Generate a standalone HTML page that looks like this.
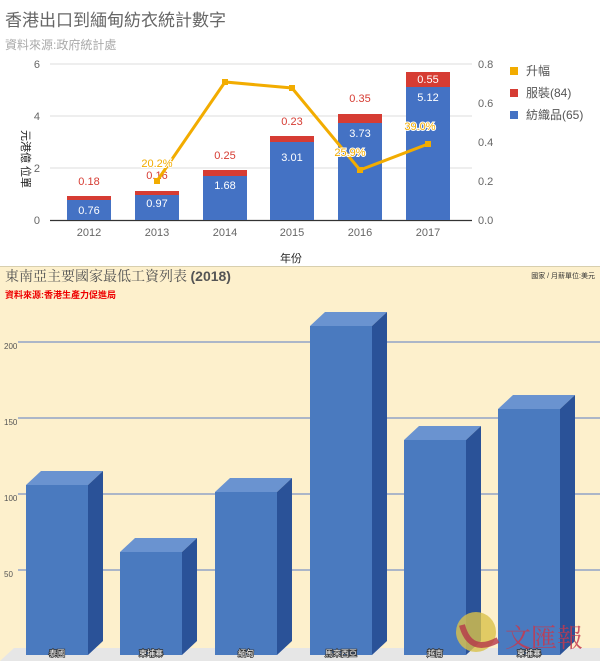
<!DOCTYPE html>
<html><head><meta charset="utf-8"><style>
body{margin:0;width:600px;height:661px;overflow:hidden;background:#fff;font-family:"Liberation Sans","Noto Sans CJK TC",sans-serif}
</style></head><body>
<svg width="600" height="661" xmlns="http://www.w3.org/2000/svg" font-family="Liberation Sans, Noto Sans CJK TC, sans-serif">
<text x="5" y="26" font-size="17" fill="#666">香港出口到緬甸紡衣統計數字</text>
<text x="5" y="49" font-size="12" fill="#aaa">資料來源:政府統計處</text>
<g stroke="#ddd" stroke-width="1">
<line x1="50" y1="64" x2="472" y2="64"/><line x1="50" y1="116" x2="472" y2="116"/><line x1="50" y1="168" x2="472" y2="168"/>
</g>
<line x1="50" y1="220.5" x2="472" y2="220.5" stroke="#333" stroke-width="1.2"/>
<g font-size="11" fill="#666" text-anchor="end"><text x="40" y="68">6</text><text x="40" y="120">4</text><text x="40" y="172">2</text><text x="40" y="224">0</text></g>
<g font-size="11" fill="#666"><text x="478" y="68">0.8</text><text x="478" y="107">0.6</text><text x="478" y="146">0.4</text><text x="478" y="185">0.2</text><text x="478" y="224">0.0</text></g>
<text transform="translate(22,130) rotate(90)" font-size="11" fill="#222">元港億 位單</text>
<g fill="#4472c4">
<rect x="67" y="200" width="44" height="20"/><rect x="135" y="195" width="44" height="25"/><rect x="203" y="176" width="44" height="44"/><rect x="270" y="142" width="44" height="78"/><rect x="338" y="123" width="44" height="97"/><rect x="406" y="87" width="44" height="133"/>
</g>
<g fill="#d63c33">
<rect x="67" y="196" width="44" height="4"/><rect x="135" y="191" width="44" height="4"/><rect x="203" y="170" width="44" height="6"/><rect x="270" y="136" width="44" height="6"/><rect x="338" y="114" width="44" height="9"/><rect x="406" y="72" width="44" height="15"/>
</g>
<g font-size="11" text-anchor="middle" fill="#fff"><text x="89" y="214">0.76</text><text x="157" y="207">0.97</text><text x="225" y="189">1.68</text><text x="292" y="161">3.01</text><text x="360" y="137">3.73</text><text x="428" y="101">5.12</text><text x="428" y="83">0.55</text></g>
<g font-size="11" text-anchor="middle" fill="#d63c33"><text x="89" y="185">0.18</text><text x="157" y="179">0.16</text><text x="225" y="159">0.25</text><text x="292" y="125">0.23</text><text x="360" y="102">0.35</text></g>
<polyline points="157,181 225,82 292,88 360,170 428,144" fill="none" stroke="#f2ac00" stroke-width="3"/>
<g fill="#f2ac00"><rect x="154" y="178" width="6" height="6"/><rect x="222" y="79" width="6" height="6"/><rect x="289" y="85" width="6" height="6"/><rect x="357" y="167" width="6" height="6"/><rect x="425" y="141" width="6" height="6"/></g>
<g font-size="11" text-anchor="middle" fill="#f2ac00" stroke="#fff" stroke-width="2" paint-order="stroke"><text x="157" y="167">20.2%</text><text x="350" y="156">25.9%</text><text x="420" y="130">39.0%</text></g>
<g font-size="11" fill="#666" text-anchor="middle"><text x="89" y="236">2012</text><text x="157" y="236">2013</text><text x="225" y="236">2014</text><text x="292" y="236">2015</text><text x="360" y="236">2016</text><text x="428" y="236">2017</text></g>
<text x="291" y="262" font-size="11" fill="#222" text-anchor="middle">年份</text>
<rect x="510" y="67" width="8" height="8" fill="#f2ac00"/><text x="526" y="75" font-size="12" fill="#555">升幅</text>
<rect x="510" y="89" width="8" height="8" fill="#d63c33"/><text x="526" y="97" font-size="12" fill="#555">服裝(84)</text>
<rect x="510" y="111" width="8" height="8" fill="#4472c4"/><text x="526" y="119" font-size="12" fill="#555">紡織品(65)</text>

<rect x="0" y="266" width="600" height="395" fill="#fdf0cc"/>
<line x1="0" y1="266.5" x2="600" y2="266.5" stroke="#d8cfae"/>
<polygon points="0,661 14,648 600,648 600,661" fill="#e6e6e6"/>
<text x="5" y="281" font-size="14" fill="#555" font-family="Liberation Serif, Noto Serif CJK SC, serif">東南亞主要國家最低工資列表 <tspan font-family="Liberation Sans, sans-serif" font-weight="bold">(2018)</tspan></text>
<text x="5" y="298" font-size="9" font-weight="bold" fill="#e00">資料來源:香港生產力促進局</text>
<text x="595" y="278" font-size="7" fill="#333" text-anchor="end">國家 / 月薪單位:美元</text>
<g stroke="#5a7cc4" stroke-width="1"><line x1="18" y1="342" x2="600" y2="342"/><line x1="18" y1="418" x2="600" y2="418"/><line x1="18" y1="494" x2="600" y2="494"/><line x1="18" y1="570" x2="600" y2="570"/></g>
<g font-size="8" fill="#555"><text x="4" y="349">200</text><text x="4" y="425">150</text><text x="4" y="501">100</text><text x="4" y="577">50</text></g>
<g id="bars">
<g><polygon points="26,485 41,471 103,471 88,485" fill="#6a93d0"/><polygon points="88,485 103,471 103,641 88,655" fill="#2a5298"/><rect x="26" y="485" width="62" height="170" fill="#4a7abf"/></g>
<g><polygon points="120,552 135,538 197,538 182,552" fill="#6a93d0"/><polygon points="182,552 197,538 197,641 182,655" fill="#2a5298"/><rect x="120" y="552" width="62" height="103" fill="#4a7abf"/></g>
<g><polygon points="215,492 230,478 292,478 277,492" fill="#6a93d0"/><polygon points="277,492 292,478 292,641 277,655" fill="#2a5298"/><rect x="215" y="492" width="62" height="163" fill="#4a7abf"/></g>
<g><polygon points="310,326 325,312 387,312 372,326" fill="#6a93d0"/><polygon points="372,326 387,312 387,641 372,655" fill="#2a5298"/><rect x="310" y="326" width="62" height="329" fill="#4a7abf"/></g>
<g><polygon points="404,440 419,426 481,426 466,440" fill="#6a93d0"/><polygon points="466,440 481,426 481,641 466,655" fill="#2a5298"/><rect x="404" y="440" width="62" height="215" fill="#4a7abf"/></g>
<g><polygon points="498,409 513,395 575,395 560,409" fill="#6a93d0"/><polygon points="560,409 575,395 575,641 560,655" fill="#2a5298"/><rect x="498" y="409" width="62" height="246" fill="#4a7abf"/></g>
</g>
<g font-size="8" fill="#fff" stroke="#333" stroke-width="1.5" paint-order="stroke" text-anchor="middle"><text x="57" y="656">泰國</text><text x="151" y="656">柬埔寨</text><text x="246" y="656">緬甸</text><text x="341" y="656">馬來西亞</text><text x="435" y="656">越南</text><text x="529" y="656">柬埔寨</text></g>
<circle cx="476" cy="632" r="20" fill="#d9c24a" opacity="0.8"/>
<path d="M462,625 Q470,655 498,640" stroke="#b5374a" stroke-width="6" fill="none" opacity="0.8"/>
<text x="505" y="647" font-size="26" fill="#c53a4f" opacity="0.85" font-family="Noto Serif CJK SC, serif">文匯報</text>
</svg>
</body></html>
